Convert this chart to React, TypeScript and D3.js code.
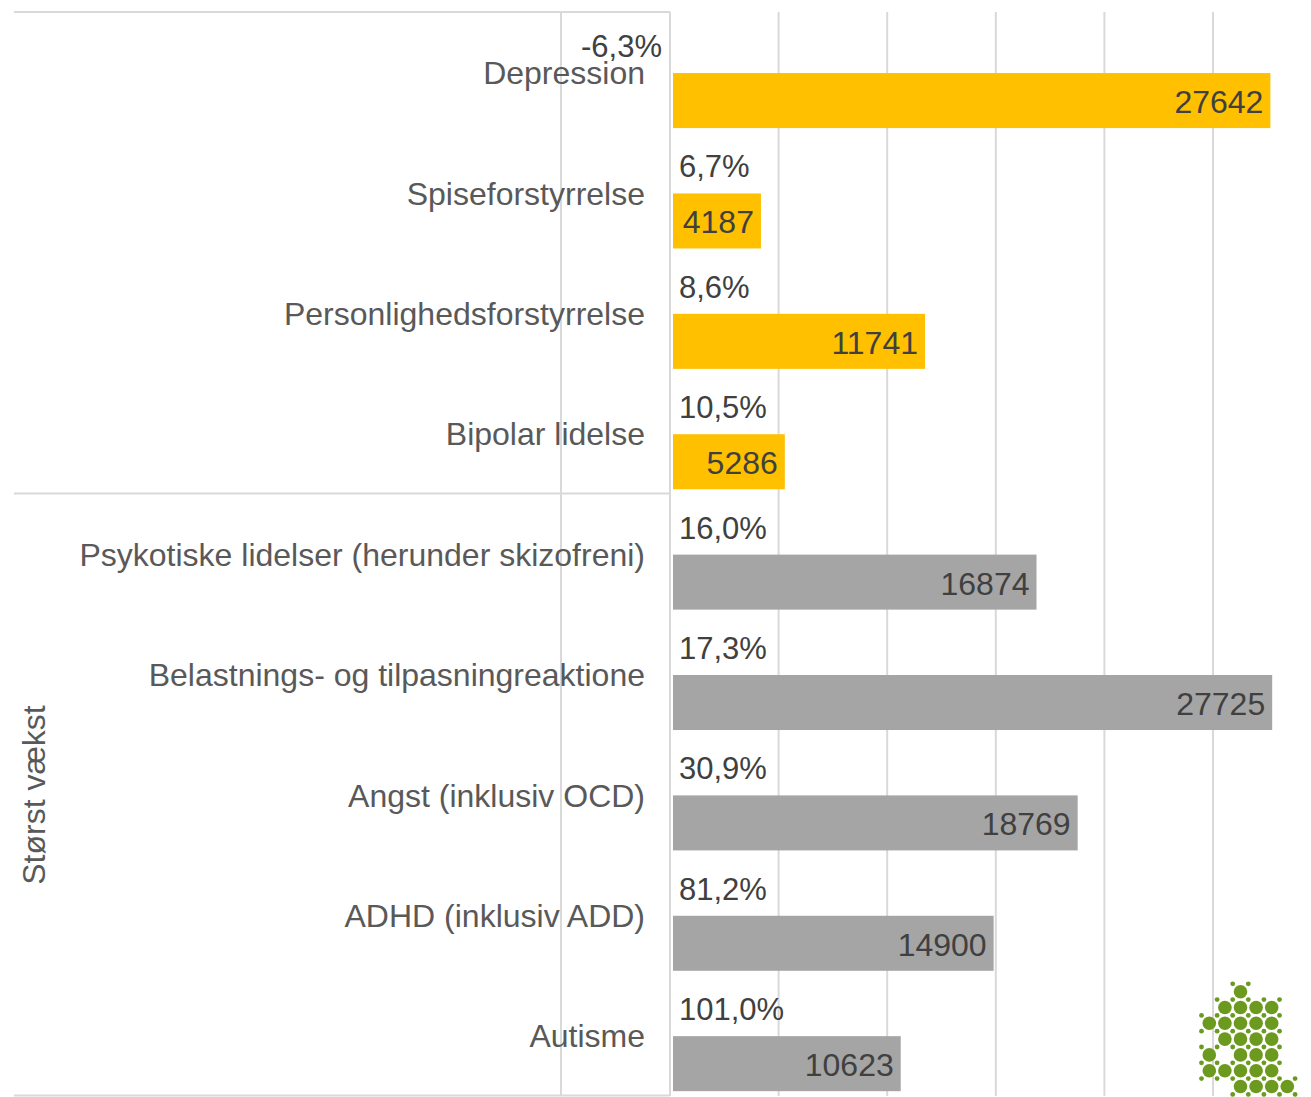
import React from "react"
import * as d3 from "d3"

// data
const categories = [
  "Depression",
  "Spiseforstyrrelse",
  "Personlighedsforstyrrelse",
  "Bipolar lidelse",
  "Psykotiske lidelser (herunder skizofreni)",
  "Belastnings- og tilpasningreaktione",
  "Angst (inklusiv OCD)",
  "ADHD (inklusiv ADD)",
  "Autisme",
]
const patients = [27642, 4187, 11741, 5286, 16874, 27725, 18769, 14900, 10623]
const growth = [-6.3, 6.7, 8.6, 10.5, 16.0, 17.3, 30.9, 81.2, 101.0]
const groupOf = ["", "", "", "", "Størst vækst", "Størst vækst", "Størst vækst", "Størst vækst", "Størst vækst"]
const groups = ["", "Størst vækst"]

// logo dot pattern (decoration)
const logoMask = [
  "..X...",
  ".XXXX.",
  "XXXXX.",
  ".XXXX.",
  "X.XXX.",
  "XXXXX.",
  "..XXXX",
]

const W = 1311
const H = 1097
const FONT = "Arial, 'Liberation Sans', sans-serif"
const YELLOW = "#FFC000"
const GREY = "#A5A5A5"
const LINE = "#D9D9D9"

const fmtPct = (v: number) => v.toFixed(1).replace(".", ",") + "%"

const App: React.FC = () => {
  const x = d3.scaleLinear().domain([0, 30000]).range([670, 1321.6])
  const y = d3.scaleBand<string>().domain(categories).range([12.5, 1096]).padding(0)
  const step = y.step()
  const ticks = d3.range(0, 30001, 5000)

  // group extents
  const groupRows = groups.map((g) => {
    const idx = categories.map((_, i) => i).filter((i) => groupOf[i] === g)
    const top = y(categories[idx[0]])!
    const bottom = y(categories[idx[idx.length - 1]])! + step
    return { g, top, bottom }
  })

  // logo
  const lx = d3.scaleLinear().domain([0, 1]).range([1209.3, 1224.9])
  const ly = d3.scaleLinear().domain([0, 1]).range([991.7, 1007.5])
  const big: [number, number][] = []
  logoMask.forEach((row, r) => row.split("").forEach((ch, c) => { if (ch === "X") big.push([c, r]) }))
  const has = (c: number, r: number) => logoMask[r] !== undefined && logoMask[r][c] === "X"
  const small: [number, number][] = []
  for (let r = -1; r < logoMask.length; r++) {
    for (let c = -1; c < 6; c++) {
      if (has(c, r) || has(c + 1, r) || has(c, r + 1) || has(c + 1, r + 1)) small.push([c + 0.5, r + 0.5])
    }
  }

  return (
    <svg width={W} height={H} style={{ position: "absolute", left: 0, top: 0 }} fontFamily={FONT}>
      <rect width={W} height={H} fill="#fff" />

      {/* gridlines */}
      {ticks.map((t) => (
        <line key={t} x1={x(t)} x2={x(t)} y1={12} y2={1096} stroke={LINE} strokeWidth={2} />
      ))}

      {/* category table lines */}
      <line x1={561} x2={561} y1={12} y2={1096} stroke={LINE} strokeWidth={2} />
      {groupRows.map((gr) => (
        <line key={"t" + gr.g} x1={14} x2={x(0)} y1={gr.top - 0.5} y2={gr.top - 0.5} stroke={LINE} strokeWidth={2} />
      ))}
      <line x1={14} x2={x(0)} y1={1095.5} y2={1095.5} stroke={LINE} strokeWidth={2} />

      {groupRows.filter((gr) => gr.g).map((gr) => (
        <text key={gr.g} transform={`translate(45,${(gr.top + gr.bottom) / 2}) rotate(-90)`}
          textAnchor="middle" fontSize={32} fill="#595959">{gr.g}</text>
      ))}

      {/* bars */}
      {categories.map((c, i) => {
        const top = y(c)!
        const x0 = x(0) + 3
        const x1 = x(patients[i])
        const neg = growth[i] < 0
        return (
          <g key={c}>
            <text x={645} y={top + step / 2 + 11.5} textAnchor="end" fontSize={32} fill="#595959">{c}</text>
            <rect x={x0} y={top + step * 0.503} width={x1 - x0} height={step * 0.457}
              fill={groupOf[i] ? GREY : YELLOW} />
            <text x={neg ? x(0) - 8 : x(0) + 9} y={top + 44.5} textAnchor={neg ? "end" : "start"}
              fontSize={31} fill="#404040">{fmtPct(growth[i])}</text>
            <text x={x1 - 7} y={top + 100.5} textAnchor="end" fontSize={32} fill="#404040">{patients[i]}</text>
          </g>
        )
      })}

      {/* logo */}
      <g fill="#6B9A1E">
        {big.map(([c, r], i) => <circle key={"b" + i} cx={lx(c)} cy={ly(r)} r={6.8} />)}
        {small.map(([c, r], i) => <circle key={"s" + i} cx={lx(c)} cy={ly(r)} r={2.4} />)}
      </g>
    </svg>
  )
}

export default App
